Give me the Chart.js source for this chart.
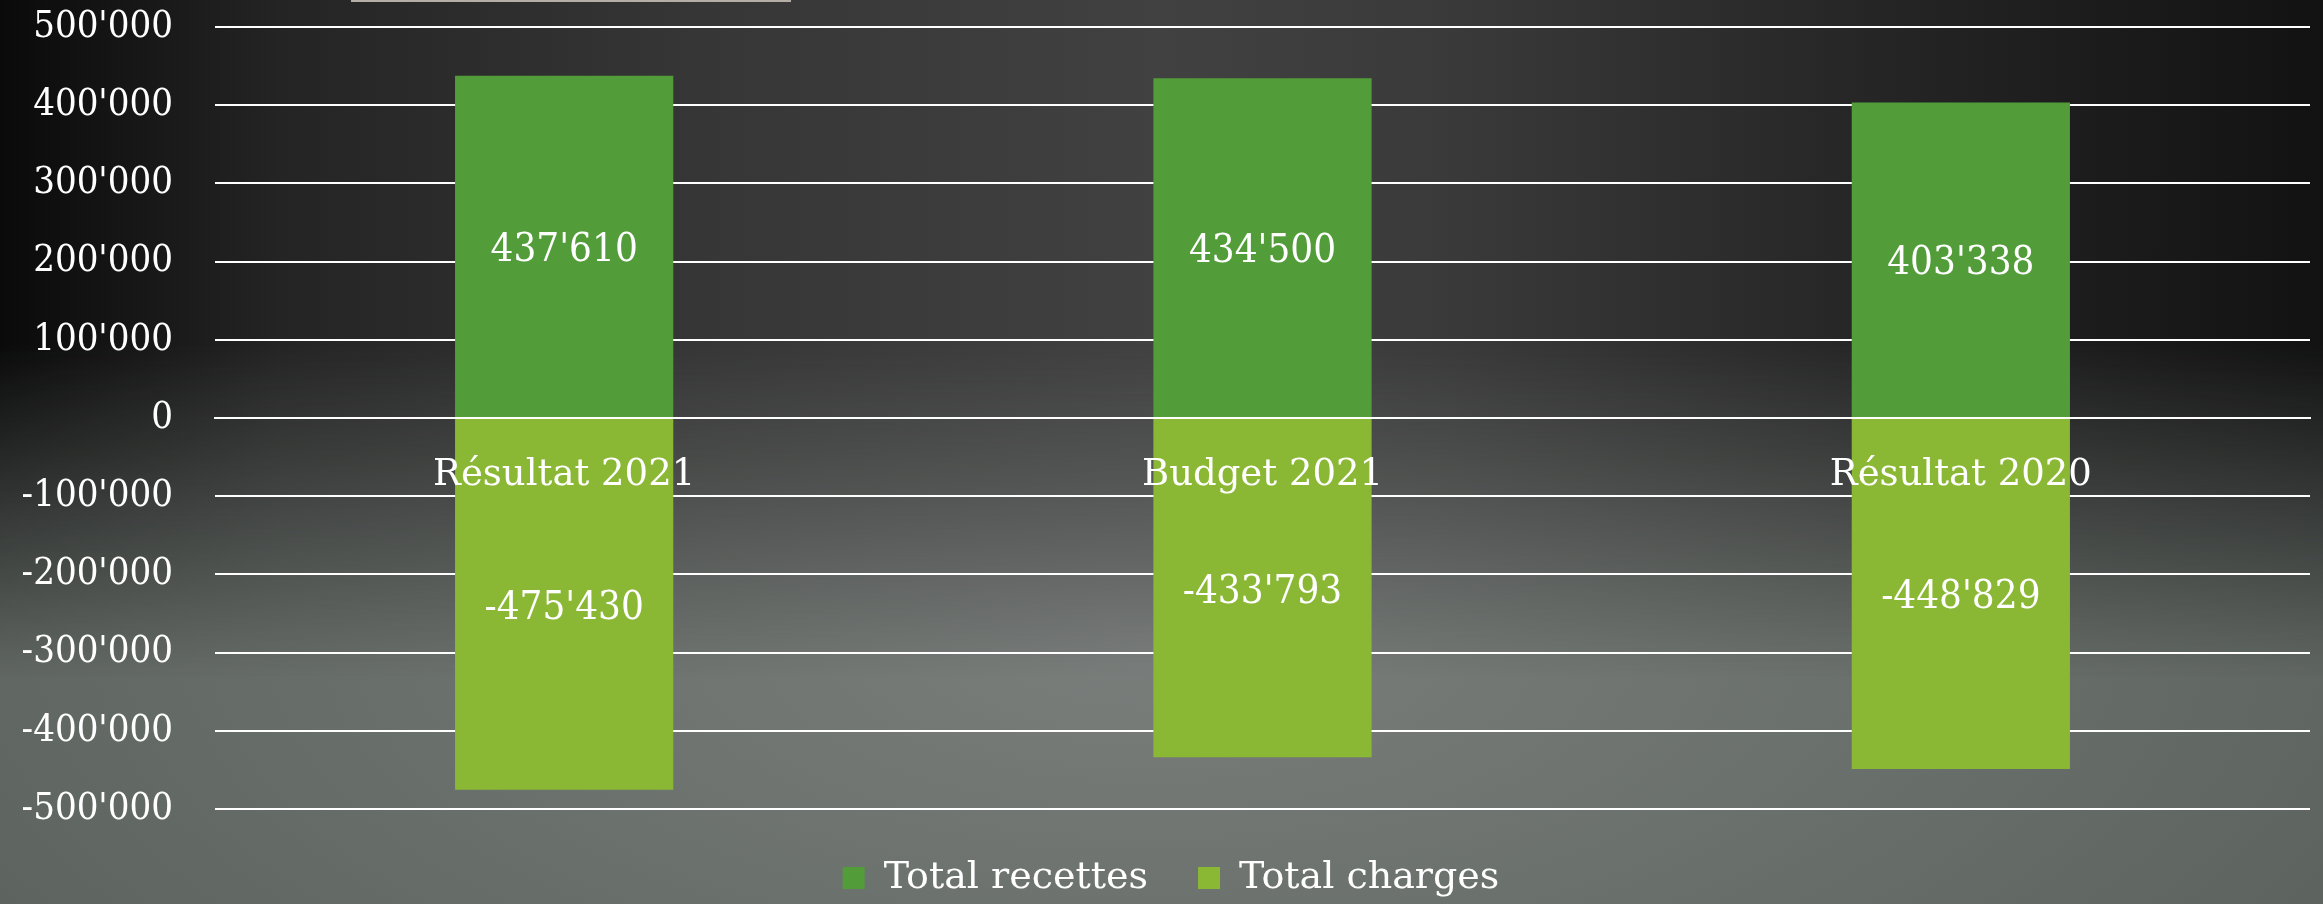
<!DOCTYPE html>
<html>
<head>
<meta charset="utf-8">
<script src="https://cdn.jsdelivr.net/npm/chart.js@4.4.1/dist/chart.umd.min.js"></script>
<style>
  html, body { margin: 0; padding: 0; width: 2323px; height: 904px; overflow: hidden; }
  body {
    background: radial-gradient(ellipse 1500px 650px at 1150px 640px, #7a7e7c 0%, #6b716d 45%, #59605c 100%);
  }
  #wrap { position: relative; width: 2323px; height: 904px; }
  #shade {
    position: absolute; left: 0; top: 0; width: 2323px; height: 904px;
    background: linear-gradient(to right, #0a0a0a 0%, #242424 12%, #363636 30%, #414141 50%, #3a3a3a 62%, #262626 80%, #121212 100%);
    -webkit-mask-image: linear-gradient(to bottom, #000 0%, #000 38%, rgba(0,0,0,0.55) 55%, rgba(0,0,0,0) 75%);
    mask-image: linear-gradient(to bottom, #000 0%, #000 38%, rgba(0,0,0,0.55) 55%, rgba(0,0,0,0) 75%);
  }
  #topline { position: absolute; left: 351px; top: 0; width: 440px; height: 2px; background: #b3afa6; }
  canvas { position: absolute; left: 0; top: 0; }
</style>
</head>
<body>
<div id="wrap">
  <div id="shade"></div>
  <div id="topline"></div>
  <canvas id="chart" width="2323" height="904"></canvas>
</div>
<script>
// data
const categories = ["Résultat 2021", "Budget 2021", "Résultat 2020"];
const recettes = [437610, 434500, 403338];
const charges = [-475430, -433793, -448829];
const seriesNames = ["Total recettes", "Total charges"];

const FONT = '"DejaVu Serif Condensed", "DejaVu Serif", serif';
const FONT_WIDE = '"DejaVu Serif", serif';

// 437610 -> 437'610
const fmt = (v) => (v < 0 ? "-" : "") + Math.abs(v).toString().replace(/\B(?=(\d{3})+(?!\d))/g, "'");

// values in the middle of each segment
const valueLabels = {
  id: "valueLabels",
  afterDatasetsDraw(chart) {
    const ctx = chart.ctx;
    ctx.save();
    ctx.font = `40px ${FONT}`;
    ctx.fillStyle = "#ffffff";
    ctx.textAlign = "center";
    ctx.textBaseline = "middle";
    chart.data.datasets.forEach((ds, i) => {
      chart.getDatasetMeta(i).data.forEach((bar, j) => {
        const p = bar.getCenterPoint();
        ctx.fillText(fmt(ds.data[j]), p.x, p.y + 4);
      });
    });
    ctx.restore();
  },
};

// the legend sits a little right of centre in the original
const legendNudge = {
  id: "legendNudge",
  afterLayout(chart) {
    chart.legend.left += 16;
    chart.legend.right += 16;
  },
};

new Chart(document.getElementById("chart"), {
  type: "bar",
  data: {
    labels: categories,
    datasets: [
      { label: seriesNames[0], data: recettes, backgroundColor: "#529d39" },
      { label: seriesNames[1], data: charges, backgroundColor: "#8bb834" },
    ],
  },
  options: {
    responsive: false,
    animation: false,
    categoryPercentage: 1,
    barPercentage: 0.3125,
    layout: { padding: { top: 0, right: 13, bottom: -3, left: 0 } },
    plugins: {
      legend: {
        position: "bottom",
        labels: {
          color: "#ffffff",
          font: { family: FONT_WIDE, size: 38 },
          boxWidth: 22,
          boxHeight: 22,
          padding: 50,
        },
      },
      tooltip: { enabled: false },
    },
    scales: {
      x: {
        stacked: true,
        position: { y: 0 },
        grid: { display: false, drawTicks: false },
        border: { display: true, color: "#ffffff", width: 2, z: 1 },
        ticks: {
          z: 1,
          color: "#ffffff",
          font: { family: FONT_WIDE, size: 37 },
          padding: 35,
          maxRotation: 0,
          autoSkip: false,
        },
      },
      y: {
        stacked: true,
        min: -500000,
        max: 500000,
        grid: { color: "#ffffff", lineWidth: 2, drawTicks: false },
        border: { display: false },
        ticks: {
          stepSize: 100000,
          color: "#ffffff",
          font: { family: FONT, size: 38 },
          padding: 42,
          callback: (v) => fmt(v),
        },
        afterFit(scale) {
          scale.width = 215;
          scale.paddingTop = 27;
          scale.paddingBottom = 20;
        },
      },
    },
  },
  plugins: [valueLabels, legendNudge],
});
</script>
</body>
</html>
